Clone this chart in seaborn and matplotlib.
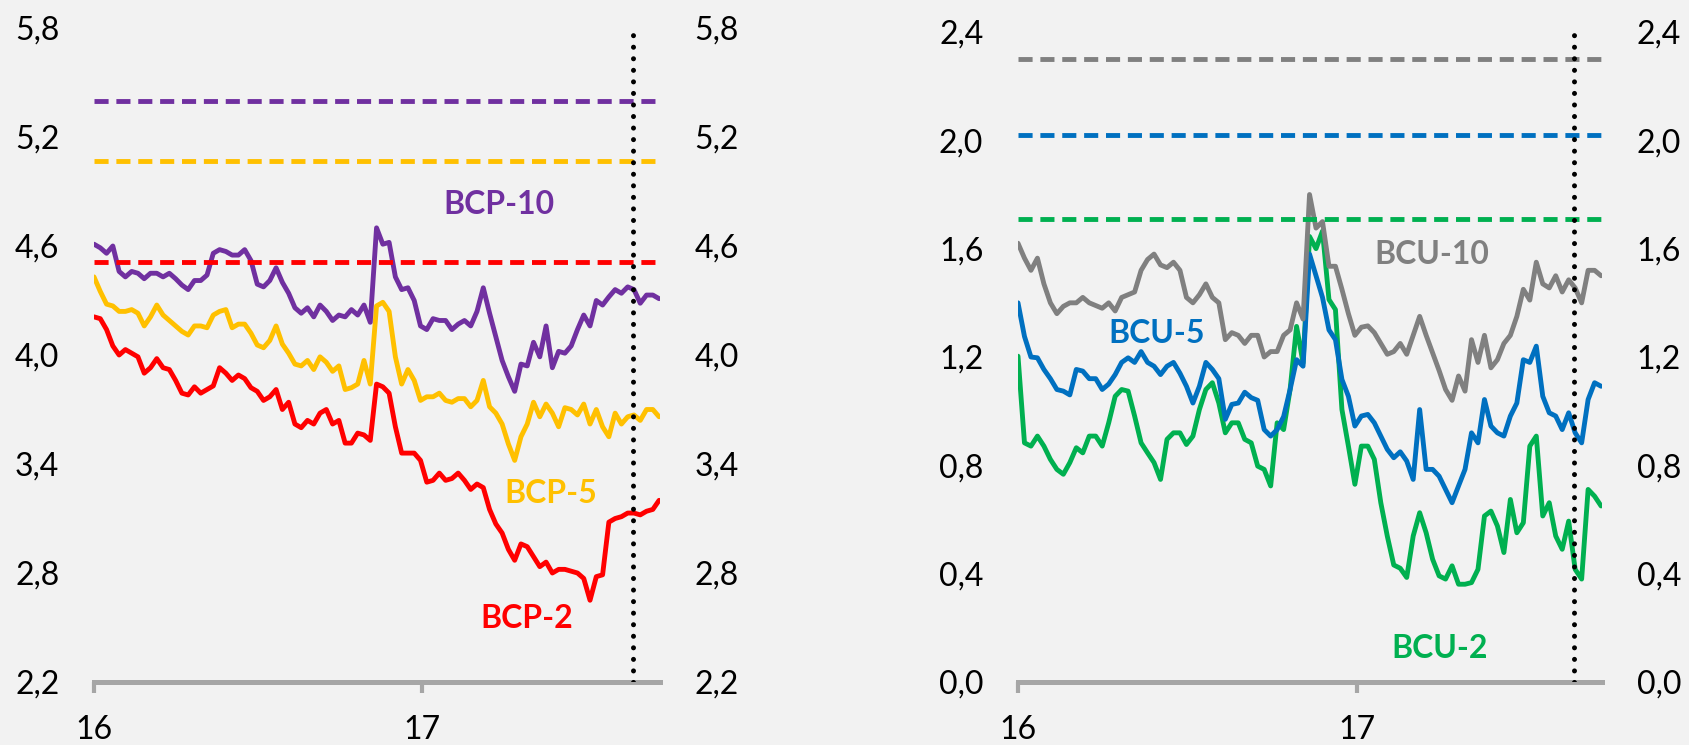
import numpy as np
import pandas as pd
import matplotlib
matplotlib.use("Agg")
import matplotlib.pyplot as plt
import matplotlib.dates as mdates
from matplotlib.ticker import FuncFormatter
import seaborn as sns

# ---------------- data (weekly readings) ----------------
start_date = "2016-01-01"
n_weeks = 91

bcp10 = [4.61, 4.59, 4.56, 4.60, 4.46, 4.43, 4.46, 4.45, 4.42, 4.45,
         4.45, 4.43, 4.45, 4.42, 4.385, 4.36, 4.41, 4.41, 4.44, 4.56,
         4.58, 4.57, 4.55, 4.55, 4.58, 4.52, 4.39, 4.375, 4.41, 4.48,
         4.40, 4.34, 4.26, 4.23, 4.26, 4.21, 4.275, 4.24, 4.19, 4.22,
         4.21, 4.25, 4.22, 4.275, 4.18, 4.70, 4.61, 4.62, 4.43, 4.36,
         4.37, 4.30, 4.16, 4.14, 4.20, 4.19, 4.19, 4.14, 4.17, 4.19,
         4.16, 4.24, 4.37, 4.23, 4.10, 3.97, 3.88, 3.80, 3.95, 3.94,
         4.07, 3.99, 4.16, 3.93, 4.02, 4.01, 4.05, 4.14, 4.22, 4.16,
         4.30, 4.275, 4.32, 4.36, 4.34, 4.375, 4.36, 4.285, 4.33, 4.33,
         4.31]

bcp5 = [4.43, 4.35, 4.28, 4.27, 4.24, 4.24, 4.25, 4.23, 4.16, 4.21,
        4.275, 4.22, 4.19, 4.16, 4.13, 4.11, 4.16, 4.16, 4.15, 4.22,
        4.24, 4.25, 4.15, 4.17, 4.17, 4.12, 4.055, 4.04, 4.08, 4.16,
        4.06, 4.01, 3.95, 3.94, 3.97, 3.92, 3.99, 3.96, 3.91, 3.94,
        3.81, 3.82, 3.84, 3.97, 3.84, 4.27, 4.29, 4.24, 3.99, 3.84,
        3.92, 3.86, 3.75, 3.77, 3.77, 3.79, 3.75, 3.74, 3.76, 3.76,
        3.715, 3.75, 3.86, 3.715, 3.68, 3.62, 3.51, 3.42, 3.55, 3.62,
        3.74, 3.66, 3.73, 3.68, 3.605, 3.71, 3.70, 3.67, 3.73, 3.62,
        3.70, 3.605, 3.55, 3.68, 3.62, 3.66, 3.67, 3.64, 3.70, 3.70,
        3.66]

bcp2 = [4.21, 4.20, 4.14, 4.05, 4.00, 4.03, 4.01, 3.99, 3.90, 3.93,
        3.98, 3.93, 3.92, 3.86, 3.79, 3.78, 3.825, 3.79, 3.81, 3.83,
        3.93, 3.90, 3.86, 3.89, 3.87, 3.82, 3.80, 3.75, 3.77, 3.81,
        3.70, 3.74, 3.62, 3.60, 3.64, 3.62, 3.68, 3.70, 3.62, 3.64,
        3.515, 3.515, 3.57, 3.56, 3.53, 3.84, 3.825, 3.79, 3.605, 3.46,
        3.46, 3.46, 3.42, 3.30, 3.31, 3.35, 3.31, 3.32, 3.35, 3.31,
        3.26, 3.29, 3.27, 3.15, 3.07, 3.02, 2.93, 2.87, 2.96, 2.945,
        2.89, 2.835, 2.86, 2.80, 2.82, 2.82, 2.81, 2.80, 2.77, 2.65,
        2.78, 2.79, 3.08, 3.10, 3.11, 3.13, 3.13, 3.12, 3.14, 3.15,
        3.20]

bcu10 = [1.62, 1.565, 1.52, 1.565, 1.47, 1.40, 1.36, 1.387, 1.40, 1.40,
         1.42, 1.40, 1.39, 1.38, 1.40, 1.37, 1.42, 1.43, 1.44, 1.52,
         1.56, 1.58, 1.54, 1.53, 1.55, 1.52, 1.42, 1.40, 1.43, 1.47,
         1.42, 1.40, 1.264, 1.29, 1.28, 1.25, 1.28, 1.28, 1.20, 1.22,
         1.22, 1.28, 1.30, 1.40, 1.34, 1.80, 1.676, 1.70, 1.535, 1.535,
         1.45, 1.36, 1.28, 1.31, 1.315, 1.29, 1.25, 1.21, 1.22, 1.25,
         1.21, 1.28, 1.35, 1.28, 1.215, 1.15, 1.08, 1.04, 1.13, 1.074,
         1.264, 1.18, 1.28, 1.16, 1.19, 1.25, 1.28, 1.35, 1.45, 1.41,
         1.55, 1.47, 1.455, 1.50, 1.44, 1.485, 1.455, 1.40, 1.52, 1.52,
         1.50]

bcu5 = [1.40, 1.276, 1.20, 1.197, 1.154, 1.12, 1.08, 1.074, 1.06, 1.154,
        1.148, 1.12, 1.12, 1.08, 1.10, 1.135, 1.18, 1.197, 1.18, 1.22,
        1.18, 1.166, 1.135, 1.166, 1.18, 1.14, 1.092, 1.03, 1.092, 1.18,
        1.154, 1.12, 0.97, 1.025, 1.03, 1.07, 1.05, 1.04, 0.932, 0.908,
        0.932, 0.98, 1.08, 1.19, 1.166, 1.58, 1.50, 1.42, 1.30, 1.264,
        1.117, 1.055, 0.945, 0.982, 0.988, 0.957, 0.908, 0.859, 0.828, 0.85,
        0.816, 0.748, 1.006, 0.785, 0.785, 0.76, 0.711, 0.662, 0.724, 0.785,
        0.92, 0.883, 1.043, 0.945, 0.92, 0.908, 0.982, 1.03, 1.19, 1.18,
        1.24, 1.055, 0.994, 0.982, 0.932, 0.994, 0.92, 0.883, 1.043, 1.105,
        1.092]

bcu2 = [1.203, 0.883, 0.871, 0.908, 0.871, 0.822, 0.785, 0.767, 0.81, 0.865,
        0.846, 0.908, 0.908, 0.871, 0.957, 1.055, 1.08, 1.074, 0.982, 0.883,
        0.846, 0.81, 0.748, 0.896, 0.92, 0.92, 0.877, 0.908, 1.006, 1.08,
        1.105, 1.03, 0.92, 0.957, 0.957, 0.896, 0.883, 0.797, 0.785, 0.724,
        0.957, 0.932, 1.08, 1.313, 1.178, 1.645, 1.60, 1.665, 1.412, 1.375,
        1.006, 0.871, 0.73, 0.871, 0.871, 0.822, 0.662, 0.539, 0.432, 0.42,
        0.386, 0.539, 0.625, 0.551, 0.453, 0.392, 0.38, 0.429, 0.361, 0.361,
        0.367, 0.416, 0.613, 0.631, 0.576, 0.478, 0.674, 0.551, 0.588, 0.871,
        0.908, 0.613, 0.662, 0.539, 0.49, 0.594, 0.416, 0.38, 0.711, 0.686,
        0.65]

# reference (dashed) levels
bcp_refs = {"BCP-10": 5.40, "BCP-5": 5.07, "BCP-2": 4.51}
bcu_refs = {"BCU-10": 2.30, "BCU-5": 2.02, "BCU-2": 1.71}

left_yticks = [2.2, 2.8, 3.4, 4.0, 4.6, 5.2, 5.8]
right_yticks = [0.0, 0.4, 0.8, 1.2, 1.6, 2.0, 2.4]
xtick_dates = ["2016-01-01", "2017-01-01"]
xtick_labels = ["16", "17"]
marker_date = "2017-08-24"

colors = {"BCP-10": "#7030A0", "BCP-5": "#FFC000", "BCP-2": "#FF0000",
          "BCU-10": "#808080", "BCU-5": "#0070C0", "BCU-2": "#00B050"}

# label anchor positions (days after start, value)
bcp_label_pos = {"BCP-10": (451, 4.83), "BCP-5": (509, 3.24), "BCP-2": (483, 2.55)}
bcu_label_pos = {"BCU-10": (447, 1.58), "BCU-5": (150, 1.285), "BCU-2": (456, 0.122)}

# ---------------- style ----------------
BG = "#F2F2F2"
sns.set_theme(style="white", rc={"axes.facecolor": BG, "figure.facecolor": BG})
plt.rcParams["font.family"] = ["Lato", "DejaVu Sans"]

dates = pd.date_range(start_date, periods=n_weeks, freq="7D")
left_df = pd.DataFrame({"date": dates, "BCP-2": bcp2, "BCP-5": bcp5, "BCP-10": bcp10})
right_df = pd.DataFrame({"date": dates, "BCU-2": bcu2, "BCU-5": bcu5, "BCU-10": bcu10})

fig = plt.figure(figsize=(16.89, 7.45), dpi=100, facecolor=BG)
ax1 = fig.add_axes([0.05565, 0.08456, 0.33511, 0.87785])
ax2 = fig.add_axes([0.60272, 0.08456, 0.34577, 0.87249])

fmt = FuncFormatter(lambda v, _: f"{v:.1f}".replace(".", ","))
x0 = mdates.date2num(pd.Timestamp(start_date))
x1 = mdates.date2num(dates[-1]) + 1

LW = 3.5


def style_axes(ax, df, names, refs, label_pos, yticks):
    ax.set_facecolor(BG)
    for name, lvl in refs.items():
        ax.axhline(lvl, color=colors[name], lw=LW, linestyle=(0, (2.9, 1.6)), zorder=3)
    for name in names:
        sns.lineplot(data=df, x="date", y=name, color=colors[name], linewidth=LW,
                     ax=ax, zorder=2)
    ax.axvline(mdates.date2num(pd.Timestamp(marker_date)), color="black", lw=3.6,
               linestyle=(0, (0.01, 2.3)), dash_capstyle="round", zorder=5)
    for name, (d, v) in label_pos.items():
        ax.text(x0 + d, v, name, color=colors[name], fontsize=23, fontweight="bold",
                ha="center", va="center", zorder=6)
    ax.set_xlim(x0, x1)
    ax.set_ylim(yticks[0], yticks[-1])
    ax.set_yticks(yticks)
    ax.yaxis.set_major_formatter(fmt)
    ax.set_xticks([mdates.date2num(pd.Timestamp(d)) for d in xtick_dates])
    ax.set_xticklabels(xtick_labels)
    ax.set_xlabel("")
    ax.set_ylabel("")
    for s in ["top", "left", "right"]:
        ax.spines[s].set_visible(False)
    ax.spines["bottom"].set_color("#A6A6A6")
    ax.spines["bottom"].set_linewidth(3.6)
    ax.spines["bottom"].set_zorder(4)
    ax.tick_params(axis="x", length=8, width=3, color="#A6A6A6", pad=16,
                   labelsize=23, labelcolor="black", bottom=True)
    ax.tick_params(axis="y", length=0, left=False, right=False, labelleft=True,
                   labelright=True, pad=25, labelsize=23, labelcolor="black")
    ax.grid(False)
    if ax.get_legend() is not None:
        ax.get_legend().remove()


style_axes(ax1, left_df, ["BCP-2", "BCP-5", "BCP-10"], bcp_refs, bcp_label_pos, left_yticks)
style_axes(ax2, right_df, ["BCU-2", "BCU-5", "BCU-10"], bcu_refs, bcu_label_pos, right_yticks)

fig.savefig("out.png", dpi=100, facecolor=BG)
